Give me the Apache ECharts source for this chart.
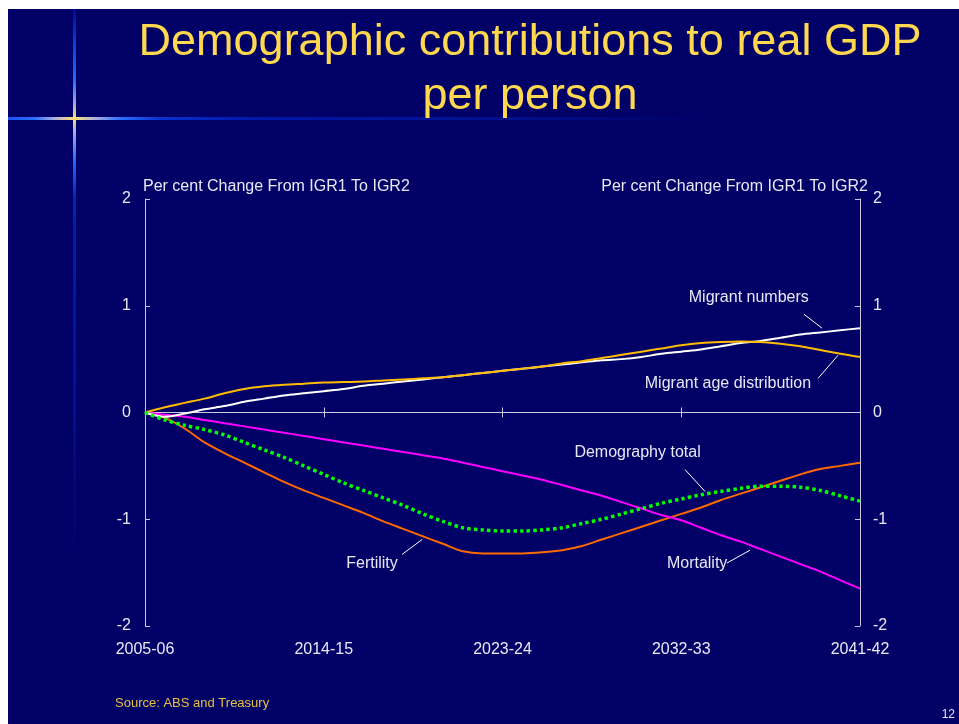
<!DOCTYPE html>
<html>
<head>
<meta charset="utf-8">
<title>Demographic contributions to real GDP per person</title>
<script src="https://cdn.jsdelivr.net/npm/echarts@6/dist/echarts.min.js"></script>
<style>
  html, body { margin: 0; padding: 0; background: #ffffff; }
  #chart { width: 959px; height: 724px; }
</style>
</head>
<body>
<div id="chart"></div>
<script>
// Financial years on the horizontal axis
const categories = [
  '2005-06','2006-07','2007-08','2008-09','2009-10','2010-11','2011-12','2012-13','2013-14',
  '2014-15','2015-16','2016-17','2017-18','2018-19','2019-20','2020-21','2021-22','2022-23',
  '2023-24','2024-25','2025-26','2026-27','2027-28','2028-29','2029-30','2030-31','2031-32',
  '2032-33','2033-34','2034-35','2035-36','2036-37','2037-38','2038-39','2039-40','2040-41',
  '2041-42'
];

// Per cent change from IGR1 to IGR2, by component
const migrantNumbers = [
  0.00, -0.04, -0.01, 0.03, 0.06, 0.10, 0.13, 0.16, 0.18, 0.20, 0.22, 0.25, 0.27,
  0.29, 0.31, 0.33, 0.35, 0.37, 0.39, 0.41, 0.43, 0.45, 0.47, 0.49, 0.50, 0.52,
  0.55, 0.57, 0.59, 0.62, 0.65, 0.67, 0.70, 0.73, 0.75, 0.77, 0.79
];
const migrantAgeDistribution = [
  0.00, 0.05, 0.09, 0.13, 0.18, 0.22, 0.245, 0.26, 0.27, 0.28, 0.285, 0.29, 0.30,
  0.31, 0.32, 0.33, 0.35, 0.37, 0.39, 0.41, 0.43, 0.46, 0.48, 0.51, 0.54, 0.57,
  0.60, 0.63, 0.65, 0.66, 0.665, 0.66, 0.645, 0.62, 0.585, 0.55, 0.52
];
const fertility = [
  0.00, -0.05, -0.15, -0.28, -0.38, -0.47, -0.56, -0.65, -0.73, -0.80, -0.87, -0.94, -1.02,
  -1.09, -1.16, -1.23, -1.30, -1.32, -1.32, -1.32, -1.31, -1.29, -1.25, -1.19, -1.13, -1.07,
  -1.01, -0.95, -0.89, -0.82, -0.76, -0.70, -0.64, -0.58, -0.53, -0.50, -0.47
];
const mortality = [
  0.00, -0.02, -0.04, -0.07, -0.10, -0.13, -0.16, -0.19, -0.22, -0.25, -0.28, -0.31, -0.34,
  -0.37, -0.40, -0.43, -0.47, -0.51, -0.55, -0.59, -0.63, -0.68, -0.73, -0.78, -0.84, -0.90,
  -0.96, -1.01, -1.08, -1.15, -1.21, -1.28, -1.35, -1.42, -1.49, -1.57, -1.65
];
const demographyTotal = [
  0.00, -0.07, -0.12, -0.16, -0.21, -0.28, -0.35, -0.42, -0.50, -0.58, -0.66, -0.73, -0.80,
  -0.87, -0.95, -1.02, -1.08, -1.10, -1.11, -1.11, -1.10, -1.08, -1.04, -1.00, -0.95, -0.90,
  -0.85, -0.81, -0.77, -0.74, -0.71, -0.69, -0.69, -0.70, -0.73, -0.78, -0.83
];
const yTicks = [-2, -1, 0, 1, 2];

const FONT = '"Liberation Sans", Arial, Helvetica, sans-serif';
const TEXT = '#e8e8f4';
const AXIS = '#c8c8e0';

const pairs = arr => arr.map((v, i) => [i, v]);

// Leader line helper in data coordinates
const leader = (x1, y1, x2, y2) => [{ coord: [x1, y1] }, { coord: [x2, y2] }];
const leaderStyle = {
  symbol: ['none', 'none'], silent: true, animation: false,
  label: { show: false }, lineStyle: { color: '#ffffff', width: 1, type: 'solid' },
  emphasis: { disabled: true }
};
const tag = (text, x, y) => ({
  coord: [x, y], value: text, symbol: 'circle', symbolSize: 0,
  label: { show: true, formatter: text, color: TEXT, fontSize: 16, fontFamily: FONT, position: 'inside' }
});
const markStyle = { silent: true, animation: false, emphasis: { disabled: true } };

const chart = echarts.init(document.getElementById('chart'), null, { renderer: 'canvas' });

chart.setOption({
  animation: false,
  backgroundColor: '#000066',
  title: {
    text: 'Demographic contributions to real GDP\nper person',
    left: 525, top: 11, textAlign: 'center',
    textStyle: {
      color: '#ffd850', fontSize: 45, fontWeight: 'normal', fontFamily: FONT, lineHeight: 54,
      textShadowColor: '#000000', textShadowOffsetX: 2, textShadowOffsetY: 2, textShadowBlur: 0
    }
  },
  graphic: [
    { type: 'rect', silent: true, z: 100, shape: { x: 0, y: 0, width: 959, height: 9 }, style: { fill: '#ffffff' } },
    { type: 'rect', silent: true, z: 100, shape: { x: 0, y: 0, width: 8, height: 724 }, style: { fill: '#ffffff' } },
    {
      type: 'rect', silent: true, z: -1, shape: { x: 8, y: 117, width: 700, height: 3 },
      style: {
        fill: new echarts.graphic.LinearGradient(0, 0, 1, 0, [
          { offset: 0, color: '#1a50ff' }, { offset: 0.039, color: '#2a70ff' },
          { offset: 0.067, color: '#b0b0e0' }, { offset: 0.094, color: '#ffe070' },
          { offset: 0.124, color: '#b0b0e0' }, { offset: 0.16, color: '#2a70ff' },
          { offset: 0.217, color: '#0a30d0' }, { offset: 0.35, color: '#0018a8' },
          { offset: 0.7, color: '#001090' }, { offset: 1, color: '#000066' }
        ])
      }
    },
    {
      type: 'rect', silent: true, z: -1, shape: { x: 73, y: 9, width: 3, height: 560 },
      style: {
        fill: new echarts.graphic.LinearGradient(0, 0, 0, 1, [
          { offset: 0, color: '#000a90' }, { offset: 0.055, color: '#0a3ad0' },
          { offset: 0.127, color: '#2a6aff' }, { offset: 0.17, color: '#a0a8e0' },
          { offset: 0.195, color: '#ffe070' }, { offset: 0.216, color: '#b0b0e0' },
          { offset: 0.27, color: '#2a6aff' }, { offset: 0.34, color: '#0520b0' },
          { offset: 0.7, color: '#001090' }, { offset: 1, color: '#000066' }
        ])
      }
    },
    {
      type: 'text', silent: true, x: 143, y: 187,
      style: { text: 'Per cent Change From IGR1 To IGR2', fill: TEXT, font: '16px ' + FONT, textAlign: 'left', textVerticalAlign: 'middle' }
    },
    {
      type: 'text', silent: true, x: 868, y: 187,
      style: { text: 'Per cent Change From IGR1 To IGR2', fill: TEXT, font: '16px ' + FONT, textAlign: 'right', textVerticalAlign: 'middle' }
    },
    {
      type: 'text', silent: true, x: 115, y: 703,
      style: { text: 'Source: ABS and Treasury', fill: '#e8c040', font: '13px ' + FONT, textAlign: 'left', textVerticalAlign: 'middle' }
    },
    {
      type: 'text', silent: true, x: 955, y: 715,
      style: { text: '12', fill: TEXT, font: '12px ' + FONT, textAlign: 'right', textVerticalAlign: 'middle' }
    }
  ],
  grid: { left: 145, right: 99, top: 199, bottom: 98, containLabel: false },
  xAxis: [
    {
      type: 'value', min: 0, max: categories.length - 1, interval: 9, position: 'bottom',
      axisLine: { show: false, onZero: false }, axisTick: { show: false }, splitLine: { show: false },
      axisLabel: {
        color: TEXT, fontSize: 16, fontFamily: FONT, margin: 16,
        showMinLabel: true, showMaxLabel: true,
        formatter: v => categories[v] || ''
      }
    },
    {
      type: 'value', min: 0, max: categories.length - 1, interval: 9, position: 'bottom',
      axisLine: { show: true, onZero: true, onZeroAxisIndex: 0, lineStyle: { color: AXIS, width: 1 } },
      axisTick: { show: true, inside: true, length: 5, lineStyle: { color: AXIS, width: 1 } },
      axisLabel: { show: false }, splitLine: { show: false }
    },
    {
      type: 'value', min: 0, max: categories.length - 1, interval: 9, position: 'bottom',
      axisLine: { show: false, onZero: true, onZeroAxisIndex: 0 },
      axisTick: { show: true, inside: false, length: 5, lineStyle: { color: AXIS, width: 1 } },
      axisLabel: { show: false }, splitLine: { show: false }
    }
  ],
  yAxis: [
    {
      type: 'value', min: yTicks[0], max: yTicks[yTicks.length - 1], interval: 1, position: 'left',
      axisLine: { show: true, onZero: false, lineStyle: { color: AXIS, width: 1 } },
      axisTick: { show: true, inside: true, length: 5, lineStyle: { color: AXIS, width: 1 } },
      axisLabel: { color: TEXT, fontSize: 16, fontFamily: FONT, margin: 14 },
      splitLine: { show: false }
    },
    {
      type: 'value', min: yTicks[0], max: yTicks[yTicks.length - 1], interval: 1, position: 'right',
      axisLine: { show: true, onZero: false, lineStyle: { color: AXIS, width: 1 } },
      axisTick: { show: true, inside: true, length: 5, lineStyle: { color: AXIS, width: 1 } },
      axisLabel: { color: TEXT, fontSize: 16, fontFamily: FONT, margin: 13 },
      splitLine: { show: false }
    }
  ],
  series: [
    {
      name: 'Fertility', type: 'line', data: pairs(fertility), showSymbol: false, smooth: 0.3,
      lineStyle: { color: '#ff6a00', width: 2 }, itemStyle: { color: '#ff6a00' },
      markLine: Object.assign({ data: [leader(12.94, -1.33, 13.95, -1.19)] }, leaderStyle),
      markPoint: Object.assign({ data: [tag('Fertility', 11.43, -1.42)] }, markStyle)
    },
    {
      name: 'Mortality', type: 'line', data: pairs(mortality), showSymbol: false, smooth: 0.3,
      lineStyle: { color: '#ff00ff', width: 2 }, itemStyle: { color: '#ff00ff' },
      markLine: Object.assign({ data: [leader(29.3, -1.41, 30.46, -1.29)] }, leaderStyle),
      markPoint: Object.assign({ data: [tag('Mortality', 27.8, -1.42)] }, markStyle)
    },
    {
      name: 'Migrant numbers', type: 'line', data: pairs(migrantNumbers), showSymbol: false, smooth: 0.3,
      lineStyle: { color: '#ffffff', width: 2 }, itemStyle: { color: '#ffffff' },
      markLine: Object.assign({ data: [leader(33.18, 0.92, 34.09, 0.79)] }, leaderStyle),
      markPoint: Object.assign({ data: [tag('Migrant numbers', 30.4, 1.08)] }, markStyle)
    },
    {
      name: 'Migrant age distribution', type: 'line', data: pairs(migrantAgeDistribution), showSymbol: false, smooth: 0.3,
      lineStyle: { color: '#ffbb00', width: 2 }, itemStyle: { color: '#ffbb00' },
      markLine: Object.assign({ data: [leader(33.89, 0.32, 34.89, 0.535)] }, leaderStyle),
      markPoint: Object.assign({ data: [tag('Migrant age distribution', 29.35, 0.27)] }, markStyle)
    },
    {
      name: 'Demography total', type: 'line', data: pairs(demographyTotal), showSymbol: false, smooth: 0.3,
      lineStyle: { color: '#00ff00', width: 3.5, type: [3.4, 3.2], cap: 'butt' }, itemStyle: { color: '#00ff00' },
      markLine: Object.assign({ data: [leader(27.19, -0.535, 28.2, -0.74)] }, leaderStyle),
      markPoint: Object.assign({ data: [tag('Demography total', 24.8, -0.375)] }, markStyle)
    }
  ]
});
</script>
</body>
</html>
